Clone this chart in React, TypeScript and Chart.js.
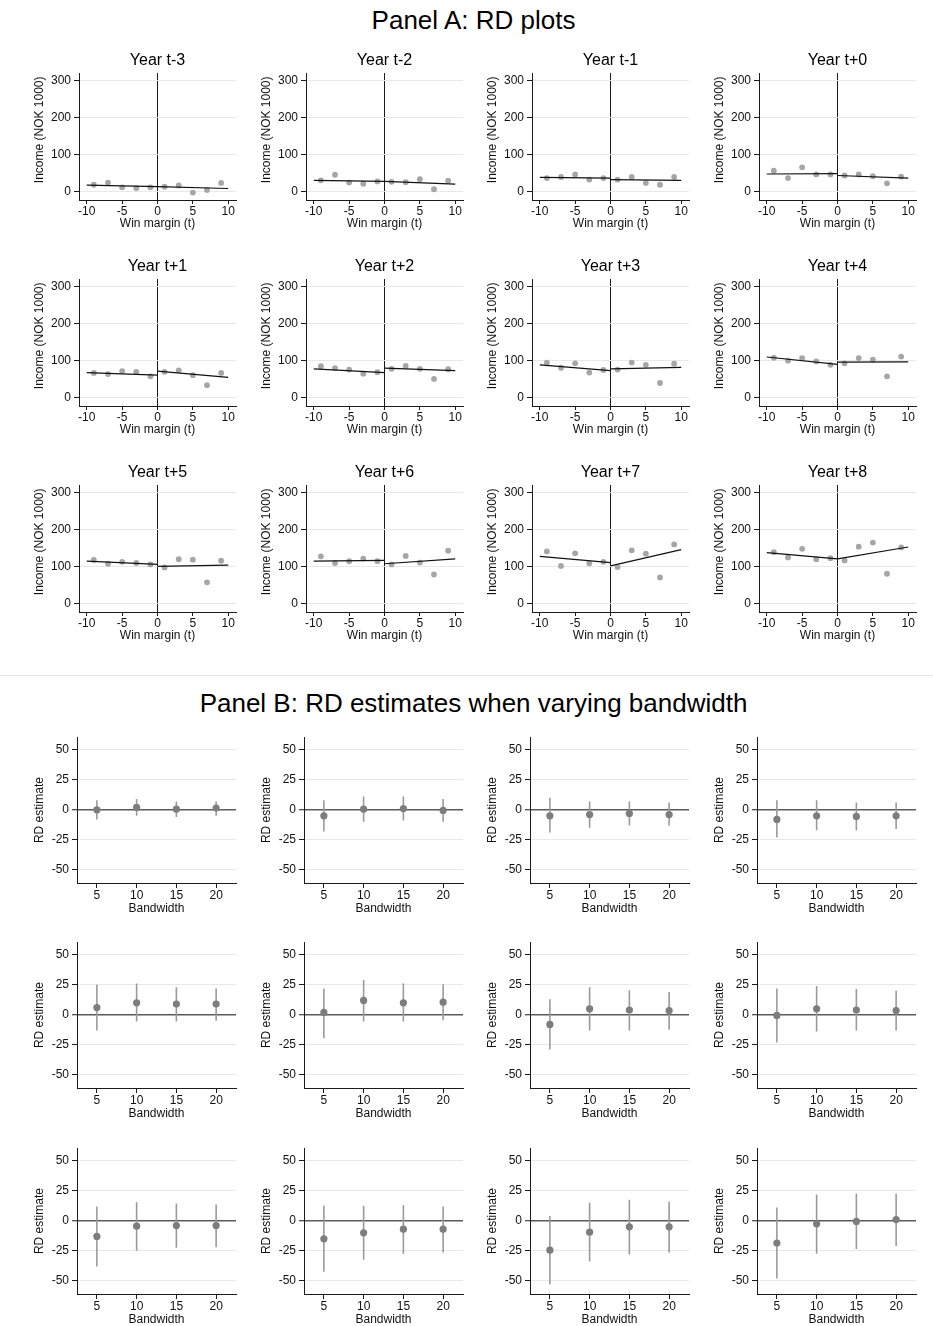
import React, { useEffect, useRef } from 'react';
import { Chart, registerables } from 'chart.js';

Chart.register(...registerables);

const FONT = "'Liberation Sans', Arial, Helvetica, sans-serif";

// ---------- Panel A data ----------
const yearLabels = [
  'Year t-3', 'Year t-2', 'Year t-1', 'Year t+0',
  'Year t+1', 'Year t+2', 'Year t+3', 'Year t+4',
  'Year t+5', 'Year t+6', 'Year t+7', 'Year t+8',
];
const binX = [-9, -7, -5, -3, -1, 1, 3, 5, 7, 9];
const incomeMeans: number[][] = [
  [19, 25, 12, 10, 12, 14, 17, -2, 5, 24],
  [31, 46, 25, 22, 28, 27, 26, 34, 7, 30],
  [37, 40, 47, 33, 37, 33, 40, 24, 19, 40],
  [57, 37, 66, 47, 47, 44, 47, 42, 23, 41],
  [67, 64, 72, 70, 58, 70, 74, 61, 34, 67],
  [85, 80, 76, 65, 69, 78, 86, 78, 51, 77],
  [95, 81, 93, 68, 75, 76, 95, 89, 40, 92],
  [108, 100, 107, 98, 89, 93, 107, 103, 58, 111],
  [118, 108, 113, 110, 106, 98, 120, 119, 58, 116],
  [128, 110, 115, 122, 115, 106, 129, 111, 79, 143],
  [141, 102, 136, 109, 113, 99, 144, 135, 71, 160],
  [139, 125, 148, 120, 123, 117, 154, 165, 81, 152],
];
// fitted line left of cutoff: [value at -10, value at 0]
const fitLeft: number[][] = [
  [18, 14], [31, 28], [39, 37], [48, 49],
  [68, 61], [78, 68], [89, 73], [110, 90],
  [115, 106], [115, 117], [128, 111], [138, 121],
];
// fitted line right of cutoff: [value at 0, value at 10]
const fitRight: number[][] = [
  [14, 9], [28, 21], [33, 31], [44, 37],
  [72, 55], [80, 73], [78, 82], [96, 97],
  [101, 104], [108, 121], [102, 146], [121, 153],
];
const xTicksA = [-10, -5, 0, 5, 10];
const yTicksA = [0, 100, 200, 300];

// ---------- Panel B data ----------
const bandwidths = [5, 10, 15, 20];
const rdEst: number[][] = [
  [0, 2, 0.5, 1.5],
  [-5, 0.5, 1, -0.5],
  [-5, -4, -3, -4],
  [-8, -5, -5.5, -5],
  [6, 10, 9, 9],
  [2, 12, 10, 10.5],
  [-8, 5, 4, 3.5],
  [-0.5, 5, 4, 3.5],
  [-13, -4.5, -4, -4],
  [-15, -10, -7, -7],
  [-24.5, -9.5, -5, -5],
  [-18.5, -2.5, -0.5, 1],
];
const ciLow: number[][] = [
  [-8, -5, -6, -5],
  [-18, -10, -9, -10],
  [-19, -15, -13, -13],
  [-23, -17, -17, -16],
  [-13, -5.5, -5.5, -5],
  [-19.5, -5.5, -5.5, -4.5],
  [-29, -13, -13, -12.5],
  [-23, -14, -13, -13],
  [-38, -25, -22.5, -22],
  [-42.5, -32.5, -27.5, -26.5],
  [-53, -34, -28, -26.5],
  [-48, -27.5, -23.5, -21],
];
const ciHigh: number[][] = [
  [8, 9, 7, 7],
  [8, 11, 11, 9],
  [10, 7, 7, 6],
  [8, 8, 6, 6],
  [25, 26, 23, 22],
  [22, 29, 26, 25.5],
  [13, 23, 20.5, 19],
  [22, 24, 21.5, 20],
  [12, 15.5, 14.5, 13.5],
  [12.5, 12.5, 13, 12],
  [4, 15, 17.5, 16],
  [11, 22, 22.5, 22.5],
];
const yTicksB = [-50, -25, 0, 25, 50];

const tickFont = { family: FONT, size: 12 };

function configA(i: number): any {
  return {
    type: 'scatter',
    data: {
      datasets: [
        {
          type: 'line',
          data: [{ x: -10, y: fitLeft[i][0] }, { x: 0, y: fitLeft[i][1] }],
          borderColor: '#111111',
          borderWidth: 1.2,
          pointRadius: 0,
          fill: false,
          order: 0,
        },
        {
          type: 'line',
          data: [{ x: 0, y: fitRight[i][0] }, { x: 10, y: fitRight[i][1] }],
          borderColor: '#111111',
          borderWidth: 1.2,
          pointRadius: 0,
          fill: false,
          order: 0,
        },
        {
          type: 'scatter',
          data: binX.map((x, j) => ({ x, y: incomeMeans[i][j] })),
          backgroundColor: '#a6a6a6',
          borderWidth: 0,
          pointRadius: 2.9,
          order: 1,
        },
      ],
    },
    options: {
      responsive: false,
      animation: false,
      events: [],
      layout: { padding: { top: 0, left: 0, right: 5, bottom: 0 } },
      plugins: {
        legend: { display: false },
        tooltip: { enabled: false },
        title: {
          display: true,
          text: yearLabels[i],
          fullSize: false,
          color: '#000',
          font: { family: FONT, size: 16, weight: 'normal', lineHeight: 1.25 },
          padding: { top: 9, bottom: 2 },
        },
      },
      scales: {
        x: {
          type: 'linear',
          min: -11.1,
          max: 11.1,
          afterBuildTicks: (s: any) => { s.ticks = xTicksA.map((v) => ({ value: v })); },
          afterFit: (s: any) => { s.height = 37; },
          grid: {
            drawOnChartArea: true,
            color: (c: any) => (c.tick && c.tick.value === 0 ? '#1a1a1a' : 'rgba(0,0,0,0)'),
            lineWidth: 1,
            drawTicks: true,
            tickLength: 4,
            tickColor: '#1a1a1a',
            tickWidth: 1,
          },
          border: { display: true, color: '#1a1a1a', width: 1 },
          ticks: { font: tickFont, color: '#111', padding: 0, maxRotation: 0, autoSkip: false },
          title: {
            display: true,
            text: 'Win margin (t)',
            color: '#111',
            font: tickFont,
            padding: { top: 0, bottom: 6 },
          },
        },
        y: {
          type: 'linear',
          min: -22,
          max: 320,
          afterBuildTicks: (s: any) => { s.ticks = yTicksA.map((v) => ({ value: v })); },
          afterFit: (s: any) => { s.width = 79; },
          grid: {
            color: '#e8e8e8',
            lineWidth: 1,
            drawTicks: true,
            tickLength: 5,
            tickColor: '#1a1a1a',
            tickWidth: 1,
          },
          border: { display: true, color: '#1a1a1a', width: 1 },
          ticks: { font: tickFont, color: '#111', padding: 3, autoSkip: false },
          title: {
            display: true,
            // leading spaces nudge the rotated title upward, as in the original
            text: '    Income (NOK 1000)',
            color: '#111',
            font: tickFont,
            padding: { top: 32, bottom: 0 },
          },
        },
      },
    },
  };
}

function configB(i: number): any {
  const errorBars = bandwidths.map((b, j) => ({
    type: 'line',
    data: [{ x: b, y: ciLow[i][j] }, { x: b, y: ciHigh[i][j] }],
    borderColor: '#9a9a9a',
    borderWidth: 1.6,
    pointRadius: 0,
    fill: false,
    order: 2,
  }));
  return {
    type: 'scatter',
    data: {
      datasets: [
        ...errorBars,
        {
          type: 'scatter',
          data: bandwidths.map((b, j) => ({ x: b, y: rdEst[i][j] })),
          backgroundColor: '#7d7d7d',
          borderWidth: 0,
          pointRadius: 3.6,
          order: 1,
        },
      ],
    },
    options: {
      responsive: false,
      animation: false,
      events: [],
      layout: { padding: { top: 10, left: 0, right: 5, bottom: 0 } },
      plugins: {
        legend: { display: false },
        tooltip: { enabled: false },
        title: { display: false },
      },
      scales: {
        x: {
          type: 'linear',
          min: 2.5,
          max: 22.5,
          afterBuildTicks: (s: any) => { s.ticks = bandwidths.map((v) => ({ value: v })); },
          afterFit: (s: any) => { s.height = 36; },
          grid: {
            drawOnChartArea: false,
            drawTicks: true,
            tickLength: 5,
            tickColor: '#1a1a1a',
            tickWidth: 1,
          },
          border: { display: true, color: '#1a1a1a', width: 1 },
          ticks: { font: tickFont, color: '#111', padding: 0, maxRotation: 0, autoSkip: false },
          title: {
            display: true,
            text: 'Bandwidth',
            color: '#111',
            font: tickFont,
            padding: { top: 0, bottom: 3.5 },
          },
        },
        y: {
          type: 'linear',
          min: -61,
          max: 60.5,
          afterBuildTicks: (s: any) => { s.ticks = yTicksB.map((v) => ({ value: v })); },
          afterFit: (s: any) => { s.width = 77; },
          grid: {
            color: (c: any) => (c.tick && c.tick.value === 0 ? '#5a5a5a' : '#e8e8e8'),
            lineWidth: (c: any) => (c.tick && c.tick.value === 0 ? 1.5 : 1),
            drawTicks: true,
            tickLength: 5,
            tickColor: '#1a1a1a',
            tickWidth: 1,
          },
          border: { display: true, color: '#1a1a1a', width: 1 },
          ticks: { font: tickFont, color: '#111', padding: 3, autoSkip: false },
          title: {
            display: true,
            text: 'RD estimate',
            color: '#111',
            font: tickFont,
            padding: { top: 32, bottom: 0 },
          },
        },
      },
    },
  };
}

function ChartCanvas(props: { left: number; top: number; width: number; height: number; makeConfig: () => any }) {
  const ref = useRef<HTMLCanvasElement | null>(null);
  useEffect(() => {
    if (!ref.current) return;
    const chart = new Chart(ref.current, props.makeConfig());
    return () => chart.destroy();
  }, []);
  return (
    <canvas
      ref={ref}
      width={props.width}
      height={props.height}
      style={{ position: 'absolute', left: props.left, top: props.top, width: props.width, height: props.height }}
    />
  );
}

const colLeft = [0, 227, 453, 680];
const rowTopA = [42, 248, 454];
const rowTopB = [727, 932, 1138];

export default function App() {
  const items: any[] = [];
  for (let i = 0; i < 12; i++) {
    const r = Math.floor(i / 4);
    const c = i % 4;
    items.push(
      <ChartCanvas key={'a' + i} left={colLeft[c]} top={rowTopA[r]} width={241} height={195} makeConfig={() => configA(i)} />
    );
    items.push(
      <ChartCanvas key={'b' + i} left={colLeft[c]} top={rowTopB[r]} width={241} height={192} makeConfig={() => configB(i)} />
    );
  }
  return (
    <div
      style={{
        position: 'absolute',
        left: 0,
        top: 0,
        width: 933,
        height: 1326,
        overflow: 'hidden',
        background: '#ffffff',
        fontFamily: FONT,
        color: '#000',
      }}
    >
      <div style={{ position: 'absolute', left: 7, top: 6, width: 933, textAlign: 'center', fontSize: 26, lineHeight: '29px' }}>
        Panel A: RD plots
      </div>
      <div style={{ position: 'absolute', left: 0, top: 675, width: 933, height: 1, background: '#e6e6e6' }} />
      <div style={{ position: 'absolute', left: 7, top: 689, width: 933, textAlign: 'center', fontSize: 26, lineHeight: '29px' }}>
        Panel B: RD estimates when varying bandwidth
      </div>
      {items}
    </div>
  );
}
